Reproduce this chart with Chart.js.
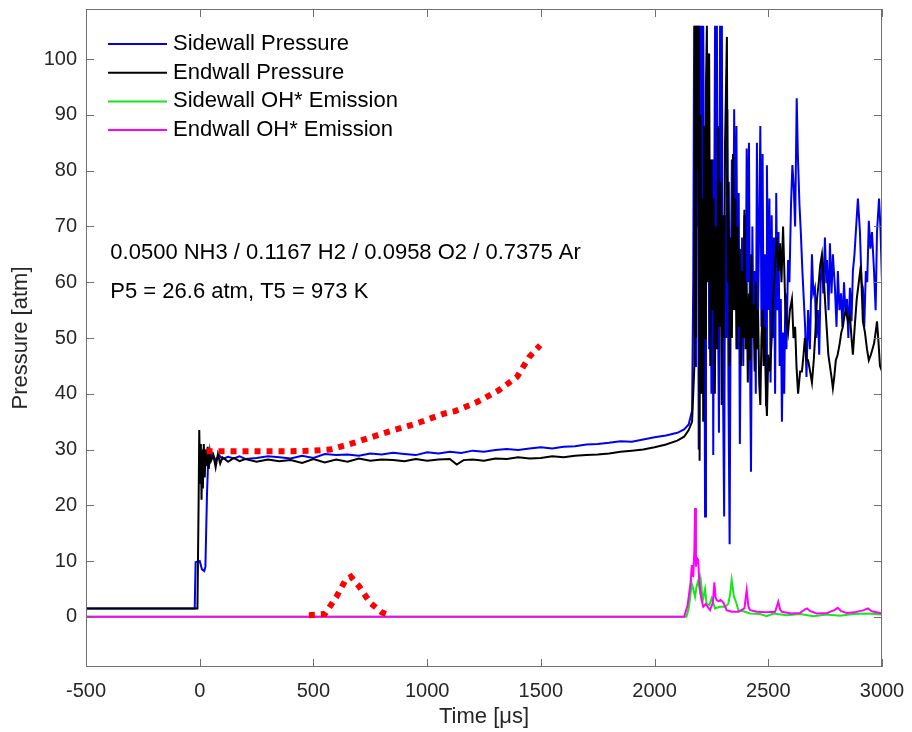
<!DOCTYPE html>
<html>
<head>
<meta charset="utf-8">
<script src="https://cdn.jsdelivr.net/npm/chart.js@4/dist/chart.umd.min.js"></script>
<style>
  html, body { margin: 0; padding: 0; background: #fff; }
</style>
</head>
<body>
<canvas id="chart" width="912" height="732"></canvas>
<script>
// tick labels
const xTicks = [-500, 0, 500, 1000, 1500, 2000, 2500, 3000];
const yTicks = [0, 10, 20, 30, 40, 50, 60, 70, 80, 90, 100];

const seriesNames = ['Sidewall Pressure', 'Endwall Pressure', 'Sidewall OH* Emission', 'Endwall OH* Emission'];
const notes = ['0.0500 NH3 / 0.1167 H2 / 0.0958 O2 / 0.7375 Ar', 'P5 = 26.6 atm, T5 = 973 K'];

// sidewall pressure (blue)
const swPressTime = [-500, -22, -18, 0, 10, 20, 25, 32, 38, 45, 55, 70, 85, 100, 125, 150, 175, 200, 250, 300, 350, 400, 450, 500, 550, 600, 650, 700, 750, 800, 850, 900, 950, 1000, 1050, 1100, 1150, 1200, 1250, 1300, 1350, 1400, 1450, 1500, 1550, 1600, 1650, 1700, 1750, 1800, 1850, 1900, 1950, 2000, 2050, 2100, 2130, 2150, 2165,
  2170, 2174, 2178, 2182, 2186, 2190, 2194, 2198, 2202, 2206, 2210, 2214, 2218, 2222, 2226, 2230, 2235, 2240, 2245, 2250, 2255, 2258, 2262, 2266, 2270, 2274, 2278, 2283, 2288, 2292, 2296, 2300, 2306, 2310, 2315, 2320, 2325, 2330, 2335, 2340, 2345, 2350, 2355, 2360, 2365, 2370, 2375, 2380, 2385, 2390, 2395, 2400, 2405, 2410, 2415, 2420, 2424, 2430, 2435, 2440, 2445, 2450, 2455, 2460, 2465, 2470, 2475, 2480, 2485, 2490, 2494, 2500, 2505, 2510, 2515, 2520, 2525, 2530, 2535, 2540, 2545, 2550, 2555, 2560, 2565, 2570, 2575, 2580, 2587, 2593, 2600, 2606, 2612, 2618, 2625, 2630, 2637, 2643, 2650, 2656, 2662, 2668, 2675, 2683, 2692, 2698, 2705, 2711, 2718, 2724, 2730, 2736, 2742, 2749, 2755, 2758, 2765, 2771, 2778, 2784, 2793, 2800, 2806, 2813, 2820, 2826, 2833, 2840, 2846, 2852, 2859, 2866, 2872, 2879, 2885, 2894, 2903, 2910, 2916, 2922, 2929, 2935, 2942, 2949, 2956, 2965, 2972, 2978, 2987, 2993, 3000];
const swPress = [1.5, 1.5, 9.8, 10, 8.5, 8.2, 9, 22, 29, 28.2, 29.3, 28.1, 29.0, 28.3, 28.7, 28.4, 28.8, 28.3, 28.5, 28.8, 28.6, 28.4, 28.9, 28.5, 29.2, 29.0, 29.1, 28.9, 29.3, 29.1, 29.4, 29.2, 29.0, 29.5, 29.3, 29.6, 29.4, 29.8, 29.6, 29.9, 30.1, 29.9, 30.2, 30.4, 30.2, 30.5, 30.6, 30.9, 31.0, 31.2, 31.5, 31.4, 31.8, 32.2, 32.5, 33.0, 33.6, 34.5, 37,
  60, 106, 45, 106, 70, 106, 30, 106, 55, 106, 40, 106, 75, 18, 60, 85, 101, 48, 78, 40, 82, 29, 70, 106, 50, 106, 62, 33, 106, 55, 106, 45, 18, 72, 50, 91, 40, 13, 60, 82, 55, 91, 60, 88, 48, 76, 31, 55, 68, 45, 72, 50, 84, 60, 85, 45, 26, 70, 50, 62, 40, 85, 55, 70, 88, 52, 83, 45, 65, 38, 81, 55, 75, 42, 72, 50, 68, 40, 76, 55, 69, 45, 57, 35, 51, 40, 58, 48, 64, 60, 74, 81, 77, 70, 93, 83, 74, 69, 62, 57, 52, 43, 55, 48, 65, 58, 59, 50, 55, 47, 60, 64, 58, 68, 60, 64, 55, 67, 58, 65, 59, 52, 62, 55, 58, 52, 60, 54, 57, 50, 59, 53, 62, 65, 69, 75, 69, 60, 59, 52, 62, 60, 71, 66, 69, 62, 55, 69, 75, 70, 60];

// endwall pressure (black)
const ewPressTime = [-500, -10, -5, -2, 2, 5, 8, 11, 14, 18, 22, 26, 30, 35, 40, 45, 50, 60, 70, 80, 90, 100, 125, 150, 175, 200, 250, 300, 350, 400, 450, 500, 550, 600, 650, 700, 750, 800, 850, 900, 950, 1000, 1050, 1100, 1130, 1160, 1200, 1250, 1300, 1350, 1400, 1450, 1500, 1550, 1600, 1650, 1700, 1750, 1800, 1850, 1900, 1950, 2000, 2050, 2100, 2130, 2150, 2165, 2175,
  2178, 2182, 2186, 2190, 2194, 2198, 2202, 2206, 2210, 2214, 2218, 2222, 2226, 2230, 2235, 2240, 2245, 2250, 2255, 2260, 2265, 2270, 2275, 2280, 2285, 2290, 2295, 2300, 2305, 2310, 2318, 2322, 2326, 2330, 2335, 2340, 2345, 2350, 2355, 2360, 2365, 2370, 2375, 2380, 2385, 2390, 2395, 2400, 2405, 2410, 2415, 2420, 2425, 2430, 2435, 2440, 2445, 2450, 2455, 2460, 2465, 2470, 2475, 2480, 2485, 2490, 2494, 2500, 2508, 2515, 2521, 2530, 2538, 2545, 2552, 2558, 2565, 2574, 2580, 2587, 2595, 2604, 2611, 2618, 2624, 2631, 2640, 2648, 2655, 2661, 2668, 2675, 2684, 2692, 2700, 2707, 2714, 2722, 2728, 2736, 2745, 2752, 2758, 2764, 2771, 2778, 2784, 2790, 2797, 2805, 2814, 2821, 2828, 2835, 2841, 2850, 2859, 2866, 2872, 2880, 2889, 2898, 2907, 2916, 2925, 2934, 2942, 2951, 2958, 2965, 2972, 2978, 2985, 2991, 3000];
const ewPress = [1.5, 1.5, 20, 33.5, 24, 31, 21, 30, 23, 31, 25, 30, 27, 30.5, 26.5, 29.5, 28, 29, 26.8, 29.2, 27.5, 28.6, 27.8, 28.5, 27.9, 28.3, 27.8, 28.2, 27.9, 28.1, 27.6, 28.3, 27.7, 28.2, 27.8, 28.4, 28.0, 28.2, 28.1, 27.9, 28.3, 28.0, 28.2, 28.3, 27.3, 28.1, 28.2, 28.0, 28.4, 28.3, 28.6, 28.4, 28.5, 28.8, 28.6, 28.9, 29.0, 29.1, 29.3, 29.6, 29.8, 30.0, 30.4, 30.9, 31.6, 32.3, 33.5, 35, 45,
  106, 50, 106, 80, 106, 28, 90, 40, 75, 35, 88, 50, 95, 106, 60, 101, 45, 82, 55, 75, 40, 70, 48, 88, 52, 78, 38, 72, 50, 85, 104, 60, 78, 45, 68, 50, 83, 55, 75, 48, 70, 52, 66, 45, 62, 50, 73, 48, 60, 42, 58, 46, 65, 50, 56, 44, 60, 48, 55, 42, 38, 50, 55, 45, 52, 40, 36, 47, 44, 50, 57, 63, 68, 62, 67, 60, 70, 57, 53, 51, 55, 57, 50, 52, 45, 40, 44, 44, 47, 50, 46, 46, 44, 42, 46, 51, 57, 60, 63, 65, 60, 55, 51, 47, 45, 43, 41, 43, 46, 47, 49, 51, 52, 54, 55, 53, 54, 50, 47, 52, 57, 60, 63, 53, 51, 48, 46, 47, 48, 49, 51, 53, 49, 45, 44];

// sidewall OH* emission (green)
const swOhTime = [-500, 2140, 2150, 2158, 2163, 2170, 2178, 2185, 2192, 2198, 2203, 2212, 2222, 2229, 2241, 2251, 2266, 2288, 2310, 2324, 2332, 2339, 2349, 2358, 2368, 2398, 2420, 2464, 2493, 2522, 2581, 2640, 2698, 2757, 2815, 2874, 2933, 3000];
const swOh = [0, 0, 1.5, 4, 6.0, 5, 3.6, 5.5, 6.5, 5, 6.6, 3, 5.0, 2.3, 2.1, 3.3, 1.5, 1.8, 1.8, 2.3, 4, 6.6, 3.6, 2.7, 1.2, 0.9, 0.6, 0.5, 0.1, 0.6, 0.3, 0.5, 0.1, 0.4, 0.2, 0.5, 0.6, 0.4];

// endwall OH* emission (magenta)
const ewOhTime = [-500, 2130, 2145, 2158, 2164, 2170, 2175, 2178, 2182, 2187, 2192, 2197, 2200, 2207, 2214, 2225, 2244, 2256, 2263, 2268, 2273, 2282, 2290, 2302, 2317, 2339, 2370, 2395, 2405, 2413, 2420, 2450, 2490, 2530, 2537, 2544, 2552, 2560, 2600, 2640, 2660, 2670, 2685, 2713, 2760, 2790, 2806, 2820, 2845, 2880, 2920, 2938, 2955, 2991, 3000];
const ewOh = [0, 0, 2, 6, 9.3, 7.1, 12, 19.5, 9, 10.5, 10.2, 6, 4.8, 3, 1.8, 2.3, 1.2, 2.5, 6.2, 3.5, 3, 2.8, 3, 2.6, 1.2, 0.9, 0.9, 1.5, 4.8, 1.8, 1.2, 0.9, 0.8, 0.9, 1.8, 2.7, 1.3, 0.9, 0.6, 0.7, 1.3, 1.5, 1.0, 0.6, 0.7, 1.2, 1.6, 1.0, 0.7, 0.8, 1.2, 1.5, 1.0, 0.7, 0.6];

// model curves (red dotted)
const simPressTime = [30, 100, 200, 300, 400, 500, 573, 662, 807, 955, 1071, 1123, 1219, 1314, 1395, 1449, 1497];
const simPress = [29.7, 29.7, 29.7, 29.7, 29.7, 29.8, 30.0, 31.0, 32.9, 34.7, 36.4, 36.9, 38.5, 40.6, 43.0, 46.6, 48.7];
const simOhTime = [480, 550, 600, 640, 665, 700, 750, 800, 840];
const simOh = [0.3, 0.5, 3.5, 6.5, 7.2, 5.5, 2.5, 0.8, 0.2];

const FONT = "'Liberation Sans', Arial, sans-serif";
const colors = ['#0000f0', '#000000', '#19e619', '#ff00ff'];

const pairs = (t, v) => t.map((x, i) => ({ x: x, y: v[i] }));

const measured = [
  pairs(swPressTime, swPress),
  pairs(ewPressTime, ewPress),
  pairs(swOhTime, swOh),
  pairs(ewOhTime, ewOh)
];
// later series sit on top, like the original plot
const drawOrder = [4, 3, 2, 1];

const datasets = measured.map((d, i) => ({
  label: seriesNames[i],
  data: d,
  borderColor: colors[i],
  borderWidth: 2,
  order: drawOrder[i]
}));
[pairs(simPressTime, simPress), pairs(simOhTime, simOh)].forEach(d => {
  datasets.push({
    label: '',
    data: d,
    borderColor: '#ff0000',
    borderWidth: 6,
    borderDash: [6, 6],
    borderCapStyle: 'butt',
    order: 0
  });
});

// keep the plot box where the original has it (no auto padding for label overhang)
const noPad = s => { s.paddingLeft = 0; s.paddingRight = 0; s.paddingTop = 0; s.paddingBottom = 0; };

const framePlugin = {
  id: 'frame',
  afterDraw(chart) {
    const { ctx, chartArea: a, scales: { x, y } } = chart;
    ctx.save();
    ctx.strokeStyle = '#707070';
    ctx.lineWidth = 1;
    ctx.strokeRect(a.left + 0.5, a.top + 0.5, a.width - 1, a.height - 1);
    ctx.beginPath();
    x.ticks.forEach(t => {
      const px = Math.round(x.getPixelForValue(t.value)) + 0.5;
      ctx.moveTo(px, a.bottom); ctx.lineTo(px, a.bottom - 8);
      ctx.moveTo(px, a.top); ctx.lineTo(px, a.top + 8);
    });
    y.ticks.forEach(t => {
      const py = Math.round(y.getPixelForValue(t.value)) + 0.5;
      ctx.moveTo(a.left, py); ctx.lineTo(a.left + 8, py);
      ctx.moveTo(a.right, py); ctx.lineTo(a.right - 8, py);
    });
    ctx.stroke();

    // legend, inside the axes, no box
    ctx.font = '22px ' + FONT;
    ctx.textBaseline = 'middle';
    ctx.fillStyle = '#000';
    seriesNames.forEach((name, i) => {
      const ly = a.top + 35 + i * 28.7;
      ctx.strokeStyle = colors[i];
      ctx.lineWidth = 2;
      ctx.beginPath();
      ctx.moveTo(a.left + 22, ly); ctx.lineTo(a.left + 81, ly);
      ctx.stroke();
      ctx.fillText(name, a.left + 87, ly);
    });

    // mixture notes
    ctx.fillText(notes[0], x.getPixelForValue(-393), y.getPixelForValue(65.2));
    ctx.fillText(notes[1], x.getPixelForValue(-393), y.getPixelForValue(58.2));
    ctx.restore();
  }
};

new Chart(document.getElementById('chart').getContext('2d'), {
  type: 'line',
  data: { datasets: datasets },
  plugins: [framePlugin],
  options: {
    responsive: false,
    animation: false,
    layout: { padding: { top: 9, right: 30, left: 0, bottom: 0 } },
    elements: { point: { radius: 0 }, line: { tension: 0 } },
    plugins: { legend: { display: false }, tooltip: { enabled: false } },
    scales: {
      x: {
        type: 'linear',
        min: -500,
        max: 3000,
        afterBuildTicks: s => { s.ticks = xTicks.map(v => ({ value: v })); },
        afterFit: s => { s.height = 65; noPad(s); },
        grid: { display: false, drawTicks: false },
        border: { display: false },
        ticks: { color: '#262626', font: { family: FONT, size: 20 }, padding: 12, maxRotation: 0, callback: v => String(v) },
        title: { display: true, text: 'Time [μs]', color: '#262626', font: { family: FONT, size: 22 }, padding: { top: 0, bottom: 2 } }
      },
      y: {
        type: 'linear',
        min: -9,
        max: 109,
        afterBuildTicks: s => { s.ticks = yTicks.map(v => ({ value: v })); },
        afterFit: s => { s.width = 86; noPad(s); },
        grid: { display: false, drawTicks: false },
        border: { display: false },
        ticks: { color: '#262626', font: { family: FONT, size: 20 }, padding: 9, callback: v => String(v) },
        title: { display: true, text: 'Pressure [atm]', color: '#262626', font: { family: FONT, size: 22 }, padding: { top: 8, bottom: 0 } }
      }
    }
  }
});
</script>
</body>
</html>
